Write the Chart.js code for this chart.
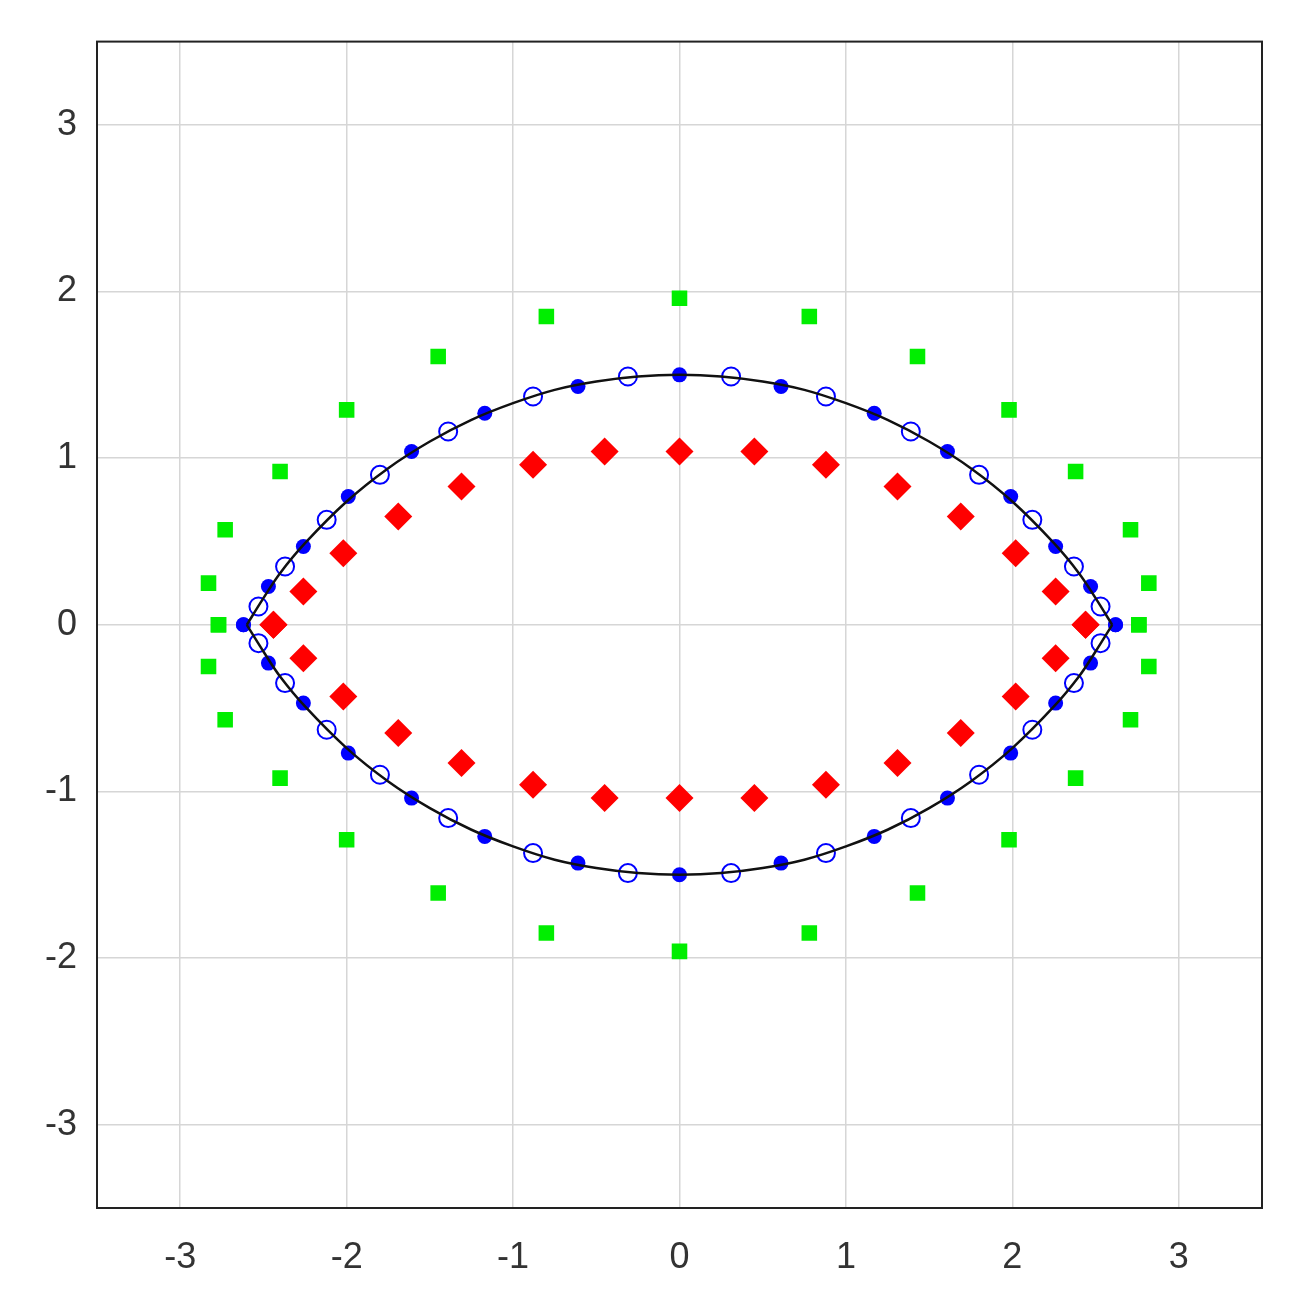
<!DOCTYPE html>
<html>
<head>
<meta charset="utf-8">
<script src="https://cdn.jsdelivr.net/npm/chart.js@4"></script>
<style>
  html, body { margin: 0; padding: 0; background: #fff; }
  #wrap { width: 1296px; height: 1292px; }
</style>
</head>
<body>
<div id="wrap"><canvas id="c"></canvas></div>
<script>
// lens curve (upper half)
const CURVE_X = [-2.6, -2.5, -2.4, -2.25, -2.0, -1.75, -1.5, -1.25, -1.0, -0.75, -0.5, -0.25, 0,
                 0.25, 0.5, 0.75, 1.0, 1.25, 1.5, 1.75, 2.0, 2.25, 2.4, 2.5, 2.6];
const CURVE_Y = [0, 0.16, 0.31, 0.49, 0.74, 0.94, 1.10, 1.23, 1.33, 1.41, 1.46, 1.49, 1.5,
                 1.49, 1.46, 1.41, 1.33, 1.23, 1.10, 0.94, 0.74, 0.49, 0.31, 0.16, 0];

// filled blue dots (upper half; mirrored in y)
const DOT_X = [-2.62, -2.47, -2.26, -1.99, -1.61, -1.17, -0.61, 0, 0.61, 1.17, 1.61, 1.99, 2.26, 2.47, 2.62];
const DOT_Y = [0, 0.23, 0.47, 0.77, 1.04, 1.27, 1.43, 1.5, 1.43, 1.27, 1.04, 0.77, 0.47, 0.23, 0];

// open blue circles (upper half)
const RING_X = [-2.53, -2.37, -2.12, -1.80, -1.39, -0.88, -0.31, 0.31, 0.88, 1.39, 1.80, 2.12, 2.37, 2.53];
const RING_Y = [0.11, 0.35, 0.63, 0.90, 1.16, 1.37, 1.49, 1.49, 1.37, 1.16, 0.90, 0.63, 0.35, 0.11];

// red diamonds (upper half)
const DIA_X = [-2.44, -2.26, -2.02, -1.69, -1.31, -0.88, -0.45, 0, 0.45, 0.88, 1.31, 1.69, 2.02, 2.26, 2.44];
const DIA_Y = [0, 0.20, 0.43, 0.65, 0.83, 0.96, 1.04, 1.04, 1.04, 0.96, 0.83, 0.65, 0.43, 0.20, 0];

// green squares (upper half)
const SQ_X = [-2.77, -2.83, -2.73, -2.40, -2.0, -1.45, -0.80, 0, 0.78, 1.43, 1.98, 2.38, 2.71, 2.82, 2.76];
const SQ_Y = [0, 0.25, 0.57, 0.92, 1.29, 1.61, 1.85, 1.96, 1.85, 1.61, 1.29, 0.92, 0.57, 0.25, 0];

const TICKS = [-3, -2, -1, 0, 1, 2, 3];

function pts(xs, ys, sign) {
  return xs.map((x, i) => ({ x, y: sign * ys[i] }));
}
function both(xs, ys) {
  return pts(xs, ys, 1).concat(pts(xs, ys, -1));
}

const frame = {
  id: "frame",
  afterDraw(chart) {
    const a = chart.chartArea, ctx = chart.ctx;
    ctx.save();
    ctx.strokeStyle = "#222";
    ctx.lineWidth = 2;
    ctx.strokeRect(a.left, a.top, a.right - a.left, a.bottom - a.top);
    ctx.restore();
  }
};

const axis = (extra) => Object.assign({
  type: "linear",
  min: -3.5, max: 3.5,
  afterBuildTicks: (s) => { s.ticks = TICKS.map(v => ({ value: v })); },
  grid: { color: "#d6d6d6", lineWidth: 1.5, drawTicks: false },
  border: { display: false },
  ticks: { color: "#333", font: { family: "Liberation Sans, Arial", size: 36 } },
}, extra);

new Chart(document.getElementById("c"), {
  type: "scatter",
  data: {
    datasets: [
      { type: "line", data: pts(CURVE_X, CURVE_Y, 1), borderColor: "#111", borderWidth: 2.5, pointRadius: 0, tension: 0.4, fill: false },
      { type: "line", data: pts(CURVE_X, CURVE_Y, -1), borderColor: "#111", borderWidth: 2.5, pointRadius: 0, tension: 0.4, fill: false },
      { data: both(SQ_X, SQ_Y), pointStyle: "rect", pointRadius: 11, backgroundColor: "#00ee00", borderColor: "#00ee00", borderWidth: 0 },
      { data: both(DIA_X, DIA_Y), pointStyle: "rectRot", pointRadius: 14, backgroundColor: "#ff0000", borderColor: "#ff0000", borderWidth: 0 },
      { data: both(RING_X, RING_Y), pointStyle: "circle", pointRadius: 9, backgroundColor: "rgba(0,0,0,0)", borderColor: "#0000ff", borderWidth: 2 },
      { data: both(DOT_X, DOT_Y), pointStyle: "circle", pointRadius: 7.5, backgroundColor: "#0000ff", borderColor: "#0000ff", borderWidth: 0 },
    ]
  },
  options: {
    responsive: true,
    maintainAspectRatio: false,
    animation: false,
    layout: { padding: { left: 0, right: 34, top: 41, bottom: 0 } },
    plugins: { legend: { display: false }, tooltip: { enabled: false } },
    scales: {
      x: axis({ position: "bottom", ticks: { color: "#333", padding: 28, font: { family: "Liberation Sans, Arial", size: 36 } },
                afterFit: (s) => { s.height = 84; } }),
      y: axis({ position: "left", ticks: { color: "#333", padding: 20, font: { family: "Liberation Sans, Arial", size: 36 } },
                afterFit: (s) => { s.width = 97; } }),
    }
  },
  plugins: [frame]
});
</script>
</body>
</html>
